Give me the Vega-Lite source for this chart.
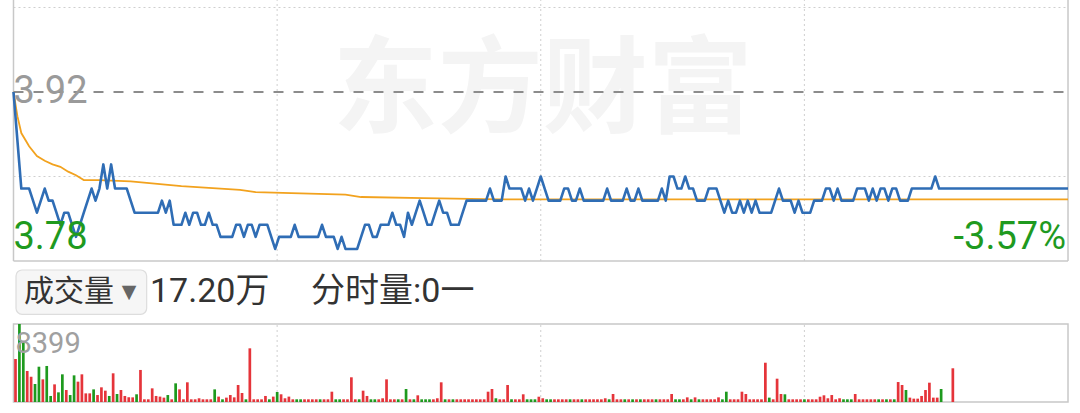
{
"$schema": "https://vega.github.io/schema/vega-lite/v6.json",
"width": 1080, "height": 413,
"autosize": {"type": "none"},
"padding": 0,
"background": "#ffffff",
"config": {"view": {"stroke": null}, "axis": {"disable": true}, "legend": {"disable": true}},
"datasets": {
"price": [
{"m":0,"p":3.92},{"m":1,"p":3.88},{"m":2,"p":3.84},{"m":3,"p":3.84},{"m":4,"p":3.84},{"m":5,"p":3.83},{"m":6,"p":3.82},{"m":7,"p":3.83},{"m":8,"p":3.84},{"m":9,"p":3.83},
{"m":10,"p":3.83},{"m":11,"p":3.82},{"m":12,"p":3.81},{"m":13,"p":3.82},{"m":14,"p":3.82},{"m":15,"p":3.81},{"m":16,"p":3.80},{"m":17,"p":3.81},{"m":18,"p":3.82},{"m":19,"p":3.83},
{"m":20,"p":3.84},{"m":21,"p":3.83},{"m":22,"p":3.84},{"m":23,"p":3.86},{"m":24,"p":3.84},{"m":25,"p":3.86},{"m":26,"p":3.84},{"m":27,"p":3.84},{"m":28,"p":3.84},{"m":29,"p":3.84},
{"m":30,"p":3.83},{"m":31,"p":3.82},{"m":32,"p":3.82},{"m":33,"p":3.82},{"m":34,"p":3.82},{"m":35,"p":3.82},{"m":36,"p":3.82},{"m":37,"p":3.82},{"m":38,"p":3.83},{"m":39,"p":3.82},
{"m":40,"p":3.83},{"m":41,"p":3.81},{"m":42,"p":3.81},{"m":43,"p":3.81},{"m":44,"p":3.82},{"m":45,"p":3.81},{"m":46,"p":3.82},{"m":47,"p":3.82},{"m":48,"p":3.81},{"m":49,"p":3.81},
{"m":50,"p":3.82},{"m":51,"p":3.81},{"m":52,"p":3.81},{"m":53,"p":3.80},{"m":54,"p":3.80},{"m":55,"p":3.80},{"m":56,"p":3.80},{"m":57,"p":3.81},{"m":58,"p":3.81},{"m":59,"p":3.80},
{"m":60,"p":3.81},{"m":61,"p":3.81},{"m":62,"p":3.80},{"m":63,"p":3.81},{"m":64,"p":3.81},{"m":65,"p":3.81},{"m":66,"p":3.80},{"m":67,"p":3.79},{"m":68,"p":3.80},{"m":69,"p":3.80},
{"m":70,"p":3.80},{"m":71,"p":3.80},{"m":72,"p":3.81},{"m":73,"p":3.80},{"m":74,"p":3.80},{"m":75,"p":3.80},{"m":76,"p":3.80},{"m":77,"p":3.80},{"m":78,"p":3.80},{"m":79,"p":3.81},
{"m":80,"p":3.80},{"m":81,"p":3.80},{"m":82,"p":3.80},{"m":83,"p":3.79},{"m":84,"p":3.80},{"m":85,"p":3.79},{"m":86,"p":3.79},{"m":87,"p":3.79},{"m":88,"p":3.79},{"m":89,"p":3.80},
{"m":90,"p":3.81},{"m":91,"p":3.81},{"m":92,"p":3.80},{"m":93,"p":3.80},{"m":94,"p":3.81},{"m":95,"p":3.81},{"m":96,"p":3.81},{"m":97,"p":3.82},{"m":98,"p":3.81},{"m":99,"p":3.81},
{"m":100,"p":3.80},{"m":101,"p":3.82},{"m":102,"p":3.81},{"m":103,"p":3.82},{"m":104,"p":3.83},{"m":105,"p":3.82},{"m":106,"p":3.81},{"m":107,"p":3.81},{"m":108,"p":3.82},{"m":109,"p":3.83},
{"m":110,"p":3.82},{"m":111,"p":3.82},{"m":112,"p":3.81},{"m":113,"p":3.81},{"m":114,"p":3.81},{"m":115,"p":3.82},{"m":116,"p":3.83},{"m":117,"p":3.83},{"m":118,"p":3.83},{"m":119,"p":3.83},
{"m":120,"p":3.83},{"m":121,"p":3.83},{"m":122,"p":3.84},{"m":123,"p":3.83},{"m":124,"p":3.83},{"m":125,"p":3.83},{"m":126,"p":3.85},{"m":127,"p":3.84},{"m":128,"p":3.84},{"m":129,"p":3.84},
{"m":130,"p":3.84},{"m":131,"p":3.83},{"m":132,"p":3.84},{"m":133,"p":3.83},{"m":134,"p":3.84},{"m":135,"p":3.85},{"m":136,"p":3.84},{"m":137,"p":3.83},{"m":138,"p":3.83},{"m":139,"p":3.83},
{"m":140,"p":3.83},{"m":141,"p":3.84},{"m":142,"p":3.84},{"m":143,"p":3.83},{"m":144,"p":3.83},{"m":145,"p":3.84},{"m":146,"p":3.83},{"m":147,"p":3.83},{"m":148,"p":3.83},{"m":149,"p":3.83},
{"m":150,"p":3.83},{"m":151,"p":3.83},{"m":152,"p":3.84},{"m":153,"p":3.83},{"m":154,"p":3.83},{"m":155,"p":3.83},{"m":156,"p":3.83},{"m":157,"p":3.84},{"m":158,"p":3.83},{"m":159,"p":3.83},
{"m":160,"p":3.84},{"m":161,"p":3.83},{"m":162,"p":3.83},{"m":163,"p":3.83},{"m":164,"p":3.83},{"m":165,"p":3.83},{"m":166,"p":3.84},{"m":167,"p":3.83},{"m":168,"p":3.85},{"m":169,"p":3.85},
{"m":170,"p":3.84},{"m":171,"p":3.84},{"m":172,"p":3.85},{"m":173,"p":3.84},{"m":174,"p":3.84},{"m":175,"p":3.83},{"m":176,"p":3.83},{"m":177,"p":3.83},{"m":178,"p":3.84},{"m":179,"p":3.84},
{"m":180,"p":3.84},{"m":181,"p":3.83},{"m":182,"p":3.82},{"m":183,"p":3.83},{"m":184,"p":3.82},{"m":185,"p":3.82},{"m":186,"p":3.83},{"m":187,"p":3.82},{"m":188,"p":3.83},{"m":189,"p":3.82},
{"m":190,"p":3.83},{"m":191,"p":3.82},{"m":192,"p":3.82},{"m":193,"p":3.82},{"m":194,"p":3.82},{"m":195,"p":3.83},{"m":196,"p":3.84},{"m":197,"p":3.83},{"m":198,"p":3.83},{"m":199,"p":3.83},
{"m":200,"p":3.82},{"m":201,"p":3.83},{"m":202,"p":3.82},{"m":203,"p":3.82},{"m":204,"p":3.82},{"m":205,"p":3.83},{"m":206,"p":3.83},{"m":207,"p":3.83},{"m":208,"p":3.84},{"m":209,"p":3.84},
{"m":210,"p":3.83},{"m":211,"p":3.84},{"m":212,"p":3.83},{"m":213,"p":3.83},{"m":214,"p":3.83},{"m":215,"p":3.83},{"m":216,"p":3.84},{"m":217,"p":3.84},{"m":218,"p":3.84},{"m":219,"p":3.83},
{"m":220,"p":3.84},{"m":221,"p":3.83},{"m":222,"p":3.84},{"m":223,"p":3.84},{"m":224,"p":3.83},{"m":225,"p":3.84},{"m":226,"p":3.84},{"m":227,"p":3.83},{"m":228,"p":3.83},{"m":229,"p":3.83},
{"m":230,"p":3.84},{"m":231,"p":3.84},{"m":232,"p":3.84},{"m":233,"p":3.84},{"m":234,"p":3.84},{"m":235,"p":3.84},{"m":236,"p":3.85},{"m":237,"p":3.84},{"m":238,"p":3.84},{"m":239,"p":3.84},
{"m":240,"p":3.84},{"m":270,"p":3.84}
],
"avg": [
{"m":0,"p":3.92},{"m":1,"p":3.90},{"m":2,"p":3.886},{"m":4,"p":3.875},{"m":6,"p":3.867},{"m":8,"p":3.863},{"m":10,"p":3.860},{"m":12,"p":3.858},{"m":14,"p":3.854},{"m":16,"p":3.851},
{"m":18,"p":3.847},{"m":22,"p":3.847},{"m":30,"p":3.846},{"m":43,"p":3.842},{"m":58,"p":3.839},{"m":62,"p":3.837},{"m":85,"p":3.835},{"m":89,"p":3.833},{"m":105,"p":3.832},{"m":125,"p":3.831},{"m":270,"p":3.831}
],
"vol": [
{"m":0,"v":4630,"d":"u"},{"m":1,"v":8399,"d":"d"},{"m":2,"v":6490,"d":"d"},{"m":3,"v":3340,"d":"u"},{"m":4,"v":2730,"d":"u"},{"m":5,"v":1940,"d":"d"},{"m":6,"v":3800,"d":"d"},{"m":7,"v":2440,"d":"u"},{"m":8,"v":3880,"d":"d"},{"m":9,"v":650,"d":"d"},
{"m":10,"v":1900,"d":"u"},{"m":11,"v":1040,"d":"d"},{"m":12,"v":2980,"d":"d"},{"m":13,"v":1290,"d":"u"},{"m":14,"v":750,"d":"d"},{"m":15,"v":2870,"d":"d"},{"m":16,"v":2190,"d":"u"},{"m":17,"v":2980,"d":"u"},{"m":18,"v":930,"d":"u"},{"m":19,"v":930,"d":"u"},
{"m":20,"v":1360,"d":"d"},{"m":21,"v":750,"d":"u"},{"m":22,"v":1580,"d":"u"},{"m":23,"v":1220,"d":"u"},{"m":24,"v":650,"d":"d"},{"m":25,"v":3090,"d":"u"},{"m":26,"v":860,"d":"d"},{"m":27,"v":1290,"d":"u"},{"m":28,"v":650,"d":"u"},{"m":29,"v":500,"d":"u"},
{"m":30,"v":500,"d":"u"},{"m":31,"v":830,"d":"d"},{"m":32,"v":3450,"d":"u"},{"m":33,"v":290,"d":"u"},{"m":34,"v":290,"d":"u"},{"m":35,"v":1470,"d":"u"},{"m":36,"v":650,"d":"u"},{"m":37,"v":580,"d":"u"},{"m":38,"v":470,"d":"u"},{"m":39,"v":750,"d":"d"},
{"m":40,"v":290,"d":"u"},{"m":41,"v":2010,"d":"d"},{"m":42,"v":1360,"d":"u"},{"m":43,"v":290,"d":"u"},{"m":44,"v":2120,"d":"u"},{"m":45,"v":290,"d":"u"},{"m":46,"v":290,"d":"u"},{"m":47,"v":400,"d":"u"},{"m":48,"v":290,"d":"u"},{"m":49,"v":290,"d":"u"},
{"m":50,"v":290,"d":"u"},{"m":51,"v":1360,"d":"d"},{"m":52,"v":580,"d":"u"},{"m":53,"v":290,"d":"d"},{"m":54,"v":470,"d":"u"},{"m":55,"v":750,"d":"u"},{"m":56,"v":500,"d":"u"},{"m":57,"v":1830,"d":"u"},{"m":58,"v":970,"d":"u"},{"m":59,"v":290,"d":"d"},
{"m":60,"v":5780,"d":"u"},{"m":61,"v":290,"d":"u"},{"m":62,"v":290,"d":"u"},{"m":63,"v":290,"d":"u"},{"m":64,"v":650,"d":"u"},{"m":65,"v":290,"d":"d"},{"m":66,"v":580,"d":"u"},{"m":67,"v":1080,"d":"d"},{"m":68,"v":830,"d":"u"},{"m":69,"v":400,"d":"u"},
{"m":70,"v":580,"d":"u"},{"m":71,"v":290,"d":"u"},{"m":72,"v":290,"d":"d"},{"m":73,"v":290,"d":"d"},{"m":74,"v":290,"d":"u"},{"m":75,"v":290,"d":"u"},{"m":76,"v":290,"d":"u"},{"m":77,"v":290,"d":"u"},{"m":78,"v":290,"d":"d"},{"m":79,"v":290,"d":"u"},
{"m":80,"v":290,"d":"u"},{"m":81,"v":1110,"d":"u"},{"m":82,"v":290,"d":"d"},{"m":83,"v":290,"d":"d"},{"m":84,"v":290,"d":"u"},{"m":85,"v":290,"d":"u"},{"m":86,"v":2660,"d":"u"},{"m":87,"v":290,"d":"u"},{"m":88,"v":290,"d":"d"},{"m":89,"v":1220,"d":"u"},
{"m":90,"v":650,"d":"u"},{"m":91,"v":290,"d":"d"},{"m":92,"v":290,"d":"d"},{"m":93,"v":290,"d":"u"},{"m":94,"v":400,"d":"u"},{"m":95,"v":2440,"d":"u"},{"m":96,"v":290,"d":"u"},{"m":97,"v":290,"d":"u"},{"m":98,"v":290,"d":"d"},{"m":99,"v":290,"d":"u"},
{"m":100,"v":1400,"d":"d"},{"m":101,"v":290,"d":"u"},{"m":102,"v":290,"d":"d"},{"m":103,"v":720,"d":"u"},{"m":104,"v":290,"d":"d"},{"m":105,"v":290,"d":"d"},{"m":106,"v":290,"d":"d"},{"m":107,"v":290,"d":"u"},{"m":108,"v":400,"d":"u"},{"m":109,"v":2120,"d":"u"},
{"m":110,"v":290,"d":"d"},{"m":111,"v":290,"d":"u"},{"m":112,"v":290,"d":"d"},{"m":113,"v":290,"d":"u"},{"m":114,"v":290,"d":"u"},{"m":115,"v":290,"d":"u"},{"m":116,"v":290,"d":"u"},{"m":117,"v":290,"d":"u"},{"m":118,"v":290,"d":"u"},{"m":119,"v":290,"d":"u"},
{"m":120,"v":290,"d":"u"},{"m":121,"v":1110,"d":"u"},{"m":122,"v":1400,"d":"u"},{"m":123,"v":400,"d":"d"},{"m":124,"v":290,"d":"u"},{"m":125,"v":290,"d":"u"},{"m":126,"v":1830,"d":"u"},{"m":127,"v":290,"d":"d"},{"m":128,"v":290,"d":"u"},{"m":129,"v":290,"d":"u"},
{"m":130,"v":830,"d":"u"},{"m":131,"v":290,"d":"d"},{"m":132,"v":290,"d":"d"},{"m":133,"v":290,"d":"d"},{"m":134,"v":570,"d":"u"},{"m":135,"v":400,"d":"u"},{"m":136,"v":290,"d":"d"},{"m":137,"v":290,"d":"d"},{"m":138,"v":290,"d":"u"},{"m":139,"v":290,"d":"u"},
{"m":140,"v":290,"d":"u"},{"m":141,"v":290,"d":"u"},{"m":142,"v":290,"d":"d"},{"m":143,"v":290,"d":"u"},{"m":144,"v":290,"d":"u"},{"m":145,"v":290,"d":"d"},{"m":146,"v":290,"d":"u"},{"m":147,"v":290,"d":"u"},{"m":148,"v":290,"d":"u"},{"m":149,"v":290,"d":"u"},
{"m":150,"v":290,"d":"u"},{"m":151,"v":400,"d":"u"},{"m":152,"v":290,"d":"d"},{"m":153,"v":860,"d":"u"},{"m":154,"v":290,"d":"u"},{"m":155,"v":290,"d":"u"},{"m":156,"v":290,"d":"d"},{"m":157,"v":290,"d":"u"},{"m":158,"v":290,"d":"d"},{"m":159,"v":290,"d":"u"},
{"m":160,"v":290,"d":"d"},{"m":161,"v":290,"d":"u"},{"m":162,"v":290,"d":"u"},{"m":163,"v":290,"d":"u"},{"m":164,"v":290,"d":"d"},{"m":165,"v":290,"d":"u"},{"m":166,"v":290,"d":"u"},{"m":167,"v":290,"d":"u"},{"m":168,"v":860,"d":"u"},{"m":169,"v":290,"d":"d"},
{"m":170,"v":290,"d":"d"},{"m":171,"v":290,"d":"u"},{"m":172,"v":500,"d":"u"},{"m":173,"v":290,"d":"d"},{"m":174,"v":500,"d":"u"},{"m":175,"v":290,"d":"d"},{"m":176,"v":290,"d":"u"},{"m":177,"v":290,"d":"u"},{"m":178,"v":290,"d":"u"},{"m":179,"v":290,"d":"u"},
{"m":180,"v":500,"d":"u"},{"m":181,"v":290,"d":"d"},{"m":182,"v":1110,"d":"d"},{"m":183,"v":290,"d":"u"},{"m":184,"v":290,"d":"u"},{"m":185,"v":290,"d":"u"},{"m":186,"v":1110,"d":"u"},{"m":187,"v":860,"d":"u"},{"m":188,"v":290,"d":"u"},{"m":189,"v":290,"d":"u"},
{"m":190,"v":290,"d":"u"},{"m":191,"v":290,"d":"u"},{"m":192,"v":4230,"d":"u"},{"m":193,"v":470,"d":"d"},{"m":194,"v":290,"d":"u"},{"m":195,"v":2510,"d":"u"},{"m":196,"v":860,"d":"u"},{"m":197,"v":830,"d":"d"},{"m":198,"v":290,"d":"u"},{"m":199,"v":290,"d":"u"},
{"m":200,"v":290,"d":"u"},{"m":201,"v":290,"d":"u"},{"m":202,"v":290,"d":"d"},{"m":203,"v":290,"d":"u"},{"m":204,"v":290,"d":"u"},{"m":205,"v":290,"d":"u"},{"m":206,"v":570,"d":"u"},{"m":207,"v":720,"d":"u"},{"m":208,"v":400,"d":"u"},{"m":209,"v":750,"d":"u"},
{"m":210,"v":290,"d":"u"},{"m":211,"v":400,"d":"u"},{"m":212,"v":290,"d":"d"},{"m":213,"v":290,"d":"d"},{"m":214,"v":290,"d":"d"},{"m":215,"v":860,"d":"u"},{"m":216,"v":290,"d":"u"},{"m":217,"v":290,"d":"u"},{"m":218,"v":290,"d":"u"},{"m":219,"v":290,"d":"u"},
{"m":220,"v":290,"d":"u"},{"m":221,"v":290,"d":"d"},{"m":222,"v":290,"d":"u"},{"m":223,"v":290,"d":"d"},{"m":224,"v":290,"d":"u"},{"m":225,"v":290,"d":"d"},{"m":226,"v":2150,"d":"u"},{"m":227,"v":1830,"d":"u"},{"m":228,"v":1290,"d":"d"},{"m":229,"v":470,"d":"u"},
{"m":230,"v":360,"d":"u"},{"m":231,"v":360,"d":"u"},{"m":232,"v":650,"d":"u"},{"m":233,"v":1290,"d":"u"},{"m":234,"v":2080,"d":"u"},{"m":235,"v":470,"d":"u"},{"m":236,"v":470,"d":"u"},{"m":237,"v":1400,"d":"d"},{"m":240,"v":3630,"d":"u"}
]
},
"resolve": {"scale": {"y": "independent"}},
"layer": [
{
"layer": [
{"data": {"values": [{"m": 135.5, "p": 3.92, "t": "东方财富"}]},
 "mark": {"type": "text", "font": "Noto Sans CJK SC", "fontWeight": "bold", "fontSize": 105, "color": "#f4f4f4", "align": "center", "baseline": "middle"},
 "encoding": {"x": {"field": "m", "type": "quantitative", "scale": {"domain": [-2.176, 271.79], "nice": false, "zero": false}},
  "y": {"field": "p", "type": "quantitative", "scale": {"domain": [3.65408, 3.99621], "nice": false, "zero": false}},
  "text": {"field": "t"}}},
{"data": {"values": [{"p": 3.99}, {"p": 3.85}]},
 "mark": {"type": "rule", "color": "#cfcfcf", "strokeWidth": 1, "strokeDash": [2, 3]},
 "encoding": {"x": {"datum": 0, "type": "quantitative", "scale": {"domain": [-2.176, 271.79], "nice": false, "zero": false}}, "x2": {"datum": 270},
  "y": {"field": "p", "type": "quantitative", "scale": {"domain": [3.65408, 3.99621], "nice": false, "zero": false}}}},
{"data": {"values": [{"m": 67.5}, {"m": 135}, {"m": 202.5}]},
 "mark": {"type": "rule", "color": "#cfcfcf", "strokeWidth": 1, "strokeDash": [2, 3]},
 "encoding": {"x": {"field": "m", "type": "quantitative", "scale": {"domain": [-2.176, 271.79], "nice": false, "zero": false}},
  "y": {"datum": 3.78, "type": "quantitative", "scale": {"domain": [3.65408, 3.99621], "nice": false, "zero": false}}, "y2": {"datum": 3.99621}}},
{"data": {"values": [{"m": 0}, {"m": 270}]},
 "mark": {"type": "rule", "color": "#c8c8c8", "strokeWidth": 1.5},
 "encoding": {"x": {"field": "m", "type": "quantitative", "scale": {"domain": [-2.176, 271.79], "nice": false, "zero": false}},
  "y": {"datum": 3.78, "type": "quantitative", "scale": {"domain": [3.65408, 3.99621], "nice": false, "zero": false}}, "y2": {"datum": 3.99621}}},
{"data": {"values": [{"p": 3.78}]},
 "mark": {"type": "rule", "color": "#c8c8c8", "strokeWidth": 1.5},
 "encoding": {"x": {"datum": 0, "type": "quantitative", "scale": {"domain": [-2.176, 271.79], "nice": false, "zero": false}}, "x2": {"datum": 270},
  "y": {"field": "p", "type": "quantitative", "scale": {"domain": [3.65408, 3.99621], "nice": false, "zero": false}}}},
{"data": {"values": [{"p": 3.92}]},
 "mark": {"type": "rule", "color": "#8c8c8c", "strokeWidth": 2, "strokeDash": [10, 10]},
 "encoding": {"x": {"datum": 0, "type": "quantitative", "scale": {"domain": [-2.176, 271.79], "nice": false, "zero": false}}, "x2": {"datum": 270},
  "y": {"field": "p", "type": "quantitative", "scale": {"domain": [3.65408, 3.99621], "nice": false, "zero": false}}}},
{"data": {"name": "avg"},
 "mark": {"type": "line", "color": "#f2a21e", "strokeWidth": 1.8},
 "encoding": {"x": {"field": "m", "type": "quantitative", "scale": {"domain": [-2.176, 271.79], "nice": false, "zero": false}},
  "y": {"field": "p", "type": "quantitative", "scale": {"domain": [3.65408, 3.99621], "nice": false, "zero": false}}}},
{"data": {"name": "price"},
 "mark": {"type": "line", "color": "#2f6db5", "strokeWidth": 2.6, "strokeJoin": "round"},
 "encoding": {"x": {"field": "m", "type": "quantitative", "scale": {"domain": [-2.176, 271.79], "nice": false, "zero": false}},
  "y": {"field": "p", "type": "quantitative", "scale": {"domain": [3.65408, 3.99621], "nice": false, "zero": false}}}},
{"data": {"values": [{"m": 0, "p": 3.92, "t": "3.92"}]},
 "mark": {"type": "text", "font": "Roboto", "fontSize": 38, "color": "#9a9a9a", "align": "left", "baseline": "middle", "dx": 0},
 "encoding": {"x": {"field": "m", "type": "quantitative", "scale": {"domain": [-2.176, 271.79], "nice": false, "zero": false}},
  "y": {"field": "p", "type": "quantitative", "scale": {"domain": [3.65408, 3.99621], "nice": false, "zero": false}},
  "text": {"field": "t"}}},
{"data": {"values": [{"m": 0, "p": 3.78, "t": "3.78"}]},
 "mark": {"type": "text", "font": "Roboto", "fontSize": 38, "color": "#1f9a1f", "align": "left", "baseline": "alphabetic", "dy": -12},
 "encoding": {"x": {"field": "m", "type": "quantitative", "scale": {"domain": [-2.176, 271.79], "nice": false, "zero": false}},
  "y": {"field": "p", "type": "quantitative", "scale": {"domain": [3.65408, 3.99621], "nice": false, "zero": false}},
  "text": {"field": "t"}}},
{"data": {"values": [{"m": 270, "p": 3.78, "t": "-3.57%"}]},
 "mark": {"type": "text", "font": "Roboto", "fontSize": 38, "color": "#1f9a1f", "align": "right", "baseline": "alphabetic", "dx": -2, "dy": -12},
 "encoding": {"x": {"field": "m", "type": "quantitative", "scale": {"domain": [-2.176, 271.79], "nice": false, "zero": false}},
  "y": {"field": "p", "type": "quantitative", "scale": {"domain": [3.65408, 3.99621], "nice": false, "zero": false}},
  "text": {"field": "t"}}}
]
},
{
"layer": [
{"data": {"values": [{"m": 67.5}, {"m": 135}, {"m": 202.5}]},
 "mark": {"type": "rule", "color": "#cfcfcf", "strokeWidth": 1, "strokeDash": [2, 3]},
 "encoding": {"x": {"field": "m", "type": "quantitative", "scale": {"domain": [-2.176, 271.79], "nice": false, "zero": false}},
  "y": {"datum": 0, "type": "quantitative", "scale": {"domain": [-1184.5, 43287], "nice": false, "zero": false}}, "y2": {"datum": 8399}}},
{"data": {"values": [{"a": 1}]},
 "mark": {"type": "rect", "fill": null, "fillOpacity": 0, "stroke": "#c8c8c8", "strokeWidth": 1.5},
 "encoding": {"x": {"datum": 0, "type": "quantitative", "scale": {"domain": [-2.176, 271.79], "nice": false, "zero": false}}, "x2": {"datum": 270},
  "y": {"datum": 0, "type": "quantitative", "scale": {"domain": [-1184.5, 43287], "nice": false, "zero": false}}, "y2": {"datum": 8399}}},
{"data": {"name": "vol"},
 "mark": {"type": "bar", "size": 2.7, "xOffset": 2},
 "encoding": {"x": {"field": "m", "type": "quantitative", "scale": {"domain": [-2.176, 271.79], "nice": false, "zero": false}},
  "y": {"field": "v", "type": "quantitative", "scale": {"domain": [-1184.5, 43287], "nice": false, "zero": false}},
  "color": {"field": "d", "type": "nominal", "scale": {"domain": ["u", "d"], "range": ["#e5343a", "#1e9a1e"]}, "legend": null}}},
{"data": {"values": [{"m": 0, "v": 8399, "t": "8399"}]},
 "mark": {"type": "text", "font": "Roboto", "fontSize": 29, "color": "#a0a0a0", "align": "left", "baseline": "top", "dx": 2, "dy": 6},
 "encoding": {"x": {"field": "m", "type": "quantitative", "scale": {"domain": [-2.176, 271.79], "nice": false, "zero": false}},
  "y": {"field": "v", "type": "quantitative", "scale": {"domain": [-1184.5, 43287], "nice": false, "zero": false}},
  "text": {"field": "t"}}},
{"data": {"values": [{"a": 1}]},
 "mark": {"type": "rect", "fill": "#f6f6f6", "stroke": "#dddddd", "strokeWidth": 1.2, "cornerRadius": 6},
 "encoding": {"x": {"datum": 0.64, "type": "quantitative", "scale": {"domain": [-2.176, 271.79], "nice": false, "zero": false}}, "x2": {"datum": 34.1},
  "y": {"datum": 14214, "type": "quantitative", "scale": {"domain": [-1184.5, 43287], "nice": false, "zero": false}}, "y2": {"datum": 9444}}},
{"data": {"values": [{"m": 2.7, "v": 11845, "t": "成交量"}]},
 "mark": {"type": "text", "font": "Noto Sans CJK SC", "fontSize": 30, "color": "#333333", "align": "left", "baseline": "middle"},
 "encoding": {"x": {"field": "m", "type": "quantitative", "scale": {"domain": [-2.176, 271.79], "nice": false, "zero": false}},
  "y": {"field": "v", "type": "quantitative", "scale": {"domain": [-1184.5, 43287], "nice": false, "zero": false}},
  "text": {"field": "t"}}},
{"data": {"values": [{"m": 34.95, "v": 11845, "t": "17.20万"}, {"m": 76.2, "v": 11845, "t": "分时量:0一"}]},
 "mark": {"type": "text", "font": "Roboto, Noto Sans CJK SC", "fontSize": 34, "color": "#333333", "align": "left", "baseline": "middle"},
 "encoding": {"x": {"field": "m", "type": "quantitative", "scale": {"domain": [-2.176, 271.79], "nice": false, "zero": false}},
  "y": {"field": "v", "type": "quantitative", "scale": {"domain": [-1184.5, 43287], "nice": false, "zero": false}},
  "text": {"field": "t"}}},
{"data": {"values": [{"m": 29.6, "v": 11845, "t": "▼"}]},
 "mark": {"type": "text", "font": "DejaVu Sans", "fontSize": 19, "color": "#666666", "align": "center", "baseline": "middle"},
 "encoding": {"x": {"field": "m", "type": "quantitative", "scale": {"domain": [-2.176, 271.79], "nice": false, "zero": false}},
  "y": {"field": "v", "type": "quantitative", "scale": {"domain": [-1184.5, 43287], "nice": false, "zero": false}},
  "text": {"field": "t"}}}
]
}
]
}
